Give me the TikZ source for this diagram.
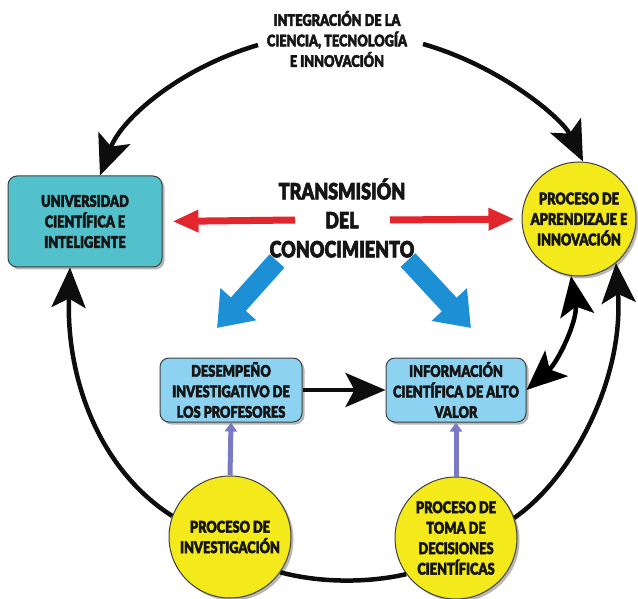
\documentclass[tikz,border=0pt]{standalone}
\usepackage{fontspec}
\usetikzlibrary{arrows.meta,shadows,calc}
\newfontfamily\cond{Lato}[UprightFont={* Black}, BoldFont={* Black}, FakeStretch=0.8, FakeBold=2.5]
\definecolor{cteal}{HTML}{52C1CC}
\definecolor{clblue}{HTML}{8DD3F1}
\definecolor{cyel}{HTML}{F4E91A}
\definecolor{cred}{HTML}{E1262D}
\definecolor{cblue}{HTML}{1D8FD4}
\definecolor{cpurp}{HTML}{7A7AC4}
\definecolor{ctext}{HTML}{151515}
\tikzset{
  txt/.style={font=\cond\fontsize{16}{20.5}\selectfont, text=ctext, align=center},
  shad/.style={drop shadow={shadow xshift=2.5pt,shadow yshift=-2.5pt,opacity=0.4,fill=black!70}},
  boxnode/.style={txt, shad, draw=black!75, line width=1pt, rounded corners=9pt, inner sep=0pt},
  circnode/.style={txt, shad, circle, draw=black!75, line width=1pt, fill=cyel, inner sep=0pt},
  bigtip/.tip={Stealth[length=40pt,width=34pt,inset=9pt]},
  arcline/.style={line width=4.5pt, draw=black!95, -bigtip},
  plainline/.style={line width=4.5pt, draw=black!95},
  purparrow/.style={line width=5pt, draw=cpurp, -{Triangle[length=9pt,width=12pt]}},
  redarrow/.style={line width=7pt, draw=cred, -{Triangle[length=26pt,width=21pt]}},
  bluearrow/.style={line width=20pt, draw=cblue, -{Triangle[length=32pt,width=46pt]}}
}
\begin{document}
\begin{tikzpicture}[x=1pt,y=-1pt]
\fill[white] (0,0) rectangle (638,599);
\useasboundingbox (0,0) rectangle (638,599);

% nodes
\node[txt] (title) at (337,39) {INTEGRACIÓN DE LA\\CIENCIA, TECNOLOGÍA\\E INNOVACIÓN};
\node[boxnode, fill=cteal, minimum width=154pt, minimum height=91pt] (uni) at (85,221.5)
  {UNIVERSIDAD\\CIENTÍFICA E\\INTELIGENTE};
\node[circnode, minimum size=114pt] (apr) at (579,219)
  {PROCESO DE\\APRENDIZAJE E\\INNOVACIÓN};
\node[txt, font=\cond\fontsize{22.5}{29}\selectfont] (trans) at (342,218)
  {TRANSMISIÓN\\DEL\\CONOCIMIENTO};
\node[boxnode, fill=clblue, minimum width=142pt, minimum height=64pt] (des) at (231,390)
  {DESEMPEÑO\\INVESTIGATIVO DE\\LOS PROFESORES};
\node[boxnode, fill=clblue, minimum width=140pt, minimum height=64pt] (inf) at (456,390)
  {INFORMACIÓN\\CIENTÍFICA DE ALTO\\VALOR};
\node[circnode, minimum size=122pt] (inv) at (230,537)
  {PROCESO DE\\INVESTIGACIÓN};
\node[circnode, minimum size=122pt] (toma) at (456,538)
  {PROCESO DE\\TOMA DE\\DECISIONES\\CIENTÍFICAS};

% free ends
\coordinate (tl) at (258,45);
\coordinate (tr) at (423,44);
\coordinate (rl) at (295,220);
\coordinate (rr) at (390,220);
\coordinate (bl1) at (277,261);
\coordinate (bl2) at (217,328);
\coordinate (br1) at (408,260);
\coordinate (br2) at (471,328);

% arcs
\draw[arcline] (tl) .. controls (180,68) and (122,118) .. ([xshift=15pt]uni.north);
\draw[arcline] (tr) .. controls (500,66) and (562,118) .. ([xshift=4pt]apr.north);
\draw[arcline] (inv.160) .. controls (100,470) and (66,380) .. ([xshift=-15pt]uni.south);
\draw[arcline] (toma.19) .. controls (572,478) and (624,380) .. (apr.-50);
\draw[line width=4.5pt, bigtip-bigtip]
  (inf.east) .. controls (558,362) and (578,320) .. (apr.-98);
\draw[plainline] (inv.-35) .. controls (320,583) and (368,583) .. (toma.-144);
\draw[arcline] (des.east) -- (inf.west);

% purple
\draw[purparrow] (inv.north) -- (des.south);
\draw[purparrow] (toma.north) -- (inf.south);

% red
\draw[redarrow, shorten >=10pt] (rl) -- (uni.east);
\draw[redarrow, shorten >=7pt] (rr) -- (apr.west);

% blue
\draw[bluearrow] (bl1) -- (bl2);
\draw[bluearrow] (br1) -- (br2);
\end{tikzpicture}
\end{document}
